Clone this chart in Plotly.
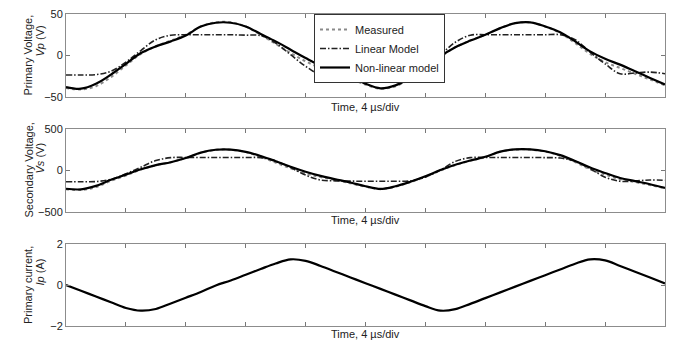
import plotly.graph_objects as go
from plotly.subplots import make_subplots

# ---------------- data ----------------
time_us = list(range(0, 41))  # microseconds, 4 us per division

vp_measured = [-39, -41, -37, -26, -12, 2, 11, 18, 25, 35, 40, 40, 35, 25, 14, 3, -7, -15, -21, -28,
               -35, -40, -37, -28, -17, -2, 10, 18, 25, 33, 39, 40, 35, 27, 15, 2, -8, -15, -22, -29, -36]
vp_linear = [-23.5, -23.5, -23, -19, -8, 6, 19, 24.5, 25, 25, 25, 25, 24.5, 24, 15, 1, -13, -23, -22, -22,
             -23, -23.5, -23.5, -21, -12, 1, 16, 24.5, 25, 25, 25, 25, 25, 25, 19, 4, -10, -22, -21, -20, -22]
vp_nonlinear = [-38, -40, -34, -23, -10, 3, 11, 17, 24, 35, 39.5, 39.5, 35, 26, 17, 7, -3, -12, -18, -25,
                -34, -39.5, -36, -27, -16, -1, 10, 18, 25, 33, 39, 40, 35, 28, 17, 5, -4, -11, -19, -27, -35]

vs_measured = [-225, -235, -200, -125, -60, 10, 62, 100, 150, 212, 250, 250, 222, 165, 95, 25, -35, -80, -115, -155,
               -195, -225, -195, -140, -75, 0, 65, 118, 162, 225, 252, 252, 228, 178, 100, 15, -50, -105, -140, -175, -215]
vs_linear = [-135, -135, -133, -107, -40, 40, 120, 155, 157, 157, 157, 157, 156, 155, 115, 35, -55, -115, -125, -128,
             -130, -130, -130, -125, -80, 5, 110, 155, 157, 157, 157, 157, 155, 150, 110, 20, -80, -130, -125, -115, -118]
vs_nonlinear = [-220, -227, -185, -112, -50, 15, 65, 100, 150, 215, 250, 252, 225, 175, 112, 45, -15, -65, -105, -145,
                -190, -222, -190, -135, -70, 5, 70, 120, 165, 228, 255, 255, 232, 185, 115, 35, -30, -90, -128, -165, -210]

ip_current = [0, -0.28, -0.56, -0.84, -1.12, -1.25, -1.17, -0.9, -0.62, -0.34, -0.02, 0.22, 0.5, 0.78, 1.05, 1.25,
              1.18, 0.93, 0.65, 0.37, 0.09, -0.19, -0.47, -0.75, -1.03, -1.25, -1.18, -0.92, -0.64, -0.36, -0.08,
              0.2, 0.48, 0.76, 1.04, 1.25, 1.2, 0.93, 0.65, 0.37, 0.08]

series_names = ["Measured", "Linear Model", "Non-linear model"]
x_title = "Time, 4 \u00b5s/div"
y_titles = [("Primary Voltage,", "<i>Vp</i> (V)"),
            ("Secondary Voltage,", "<i>Vs</i> (V)"),
            ("Primary current,", "<i>Ip</i> (A)")]
y_ranges = [[-50, 50], [-500, 500], [-2, 2]]
y_ticks = [[-50, 0, 50], [-500, 0, 500], [-2, 0, 2]]

# ---------------- figure ----------------
W, H = 674, 343
ML, MR, MT, MB = 66, 9, 14, 17
PH = H - MT - MB
PW = W - ML - MR


def fy(p):
    return (H - MB - p) / PH


def fx(p):
    return (p - ML) / PW


panel_px = [(14, 97), (129, 212), (244, 326)]

fig = make_subplots(rows=3, cols=1, shared_xaxes=False, vertical_spacing=0.05)

meas_style = dict(color="#8a8a8a", width=2, dash="dot", shape="spline")
lin_style = dict(color="#222222", width=1.6, dash="6px,2px,1.5px,2px", shape="spline")
nl_style = dict(color="#000000", width=2.2, shape="spline")

for r, (m, l, n) in enumerate([(vp_measured, vp_linear, vp_nonlinear),
                               (vs_measured, vs_linear, vs_nonlinear)], start=1):
    fig.add_trace(go.Scatter(x=time_us, y=m, mode="lines", line=meas_style, name=series_names[0],
                             showlegend=(r == 1)), row=r, col=1)
    fig.add_trace(go.Scatter(x=time_us, y=l, mode="lines", line=lin_style, name=series_names[1],
                             showlegend=(r == 1)), row=r, col=1)
    fig.add_trace(go.Scatter(x=time_us, y=n, mode="lines", line=nl_style, name=series_names[2],
                             showlegend=(r == 1)), row=r, col=1)

fig.add_trace(go.Scatter(x=time_us, y=ip_current, mode="lines", line=nl_style, showlegend=False),
              row=3, col=1)

font = dict(family="Liberation Sans, Arial, sans-serif", size=11, color="#222222")

for i in range(3):
    top, bot = panel_px[i]
    ax = "" if i == 0 else str(i + 1)
    fig.layout["xaxis" + ax].update(
        range=[0, 40], dtick=4, tick0=0, showticklabels=False, ticks="inside", ticklen=4,
        tickcolor="#777777", showline=True, linecolor="#8c8c8c", linewidth=1, mirror="ticks",
        showgrid=False, zeroline=False, domain=[0, 1])
    fig.layout["yaxis" + ax].update(
        range=y_ranges[i], tickvals=y_ticks[i], ticks="inside", ticklen=4, tickcolor="#777777",
        showline=True, linecolor="#8c8c8c", linewidth=1, mirror="ticks", showgrid=False,
        zeroline=False, tickfont=font, domain=[fy(bot), fy(top)])

annotations = []
title_y_px = [107, 220, 334]
line2_center = [41, 158, 272]
for i in range(3):
    top, bot = panel_px[i]
    annotations.append(dict(text=x_title, x=0.5, y=fy(title_y_px[i]), xref="paper", yref="paper",
                            showarrow=False, font=font, xanchor="center", yanchor="middle",
                            borderpad=0))
    annotations.append(dict(text=y_titles[i][0], x=fx(28), y=fy((top + bot) / 2), xref="paper",
                            yref="paper", showarrow=False, font=font, textangle=-90,
                            xanchor="center", yanchor="middle"))
    annotations.append(dict(text=y_titles[i][1], x=fx(39.5), y=fy(line2_center[i]), xref="paper",
                            yref="paper", showarrow=False, font=font, textangle=-90,
                            xanchor="center", yanchor="middle"))

fig.update_layout(
    width=W, height=H, margin=dict(l=ML, r=MR, t=MT, b=MB),
    plot_bgcolor="white", paper_bgcolor="white", font=font,
    annotations=annotations,
    legend=dict(x=fx(314), y=1.0, xanchor="left", yanchor="top", bgcolor="white",
                bordercolor="#333333", borderwidth=1, font=dict(family=font["family"], size=11, color="#222"),
                tracegroupgap=0, itemwidth=30),
)

fig.write_html("out.html", config={"displayModeBar": False},
               post_script="document.body.style.margin='0';document.body.style.overflow='hidden';")
